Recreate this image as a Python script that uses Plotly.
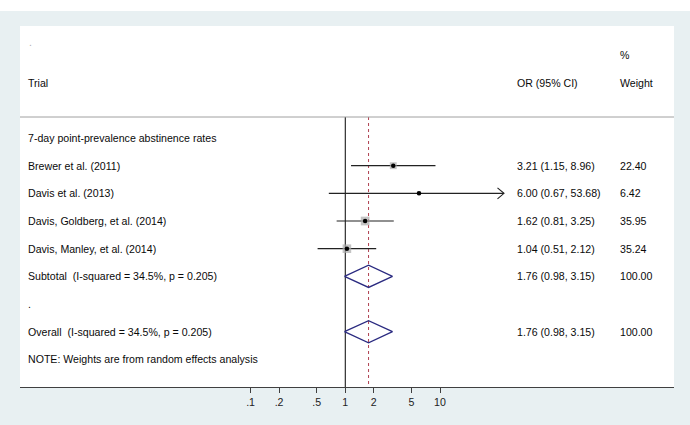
import numpy as np
import plotly.graph_objects as go

# ---------------- data ----------------
studies = ["Brewer et al. (2011)", "Davis et al. (2013)",
           "Davis, Goldberg, et al. (2014)", "Davis, Manley, et al. (2014)"]
or_est = [3.21, 6.00, 1.62, 1.04]
ci_low = [1.15, 0.67, 0.81, 0.51]
ci_high = [8.96, 53.68, 3.25, 2.12]
weights = [22.40, 6.42, 35.95, 35.24]

group_label = "7-day point-prevalence abstinence rates"
subtotal_label = "Subtotal\u00a0 (I-squared = 34.5%, p = 0.205)"
overall_label = "Overall\u00a0 (I-squared = 34.5%, p = 0.205)"
note_label = "NOTE: Weights are from random effects analysis"
pooled_est, pooled_low, pooled_high = 1.76, 0.98, 3.15
subtotal_weight = 100.00
overall_weight = 100.00

tick_vals = [0.1, 0.2, 0.5, 1, 2, 5, 10]
tick_text = [".1", ".2", ".5", "1", "2", "5", "10"]
axis_clip_max = 47.4  # CI drawn up to the plot's display limit, then arrow

# ---------------- layout helpers ----------------
W, H = 690, 425
ML, MR, MT, MB = 20, 16, 26, 38
PW, PH = W - ML - MR, H - MT - MB
FONT = "Liberation Sans, Arial, sans-serif"
FS = 10.6
TXT = "#0a0a0a"

def px_to_paper_x(px):
    return (px - ML) / PW

row_group = 0
row_studies = [1, 2, 3, 4]
row_sub = 5
row_dot = 6
row_overall = 7
row_note = 8
row_header = -2
row_pct = -3
row_hline = -0.76
y_top, y_bot = -4.05, 9.0

fig = go.Figure()

# reference line at 1 and pooled dashed line
fig.add_trace(go.Scatter(x=[1, 1], y=[row_hline, y_bot], mode="lines",
                         line=dict(color="#1a1a1a", width=1.1), hoverinfo="skip"))
fig.add_trace(go.Scatter(x=[pooled_est, pooled_est], y=[row_hline, y_bot], mode="lines",
                         line=dict(color="#b04050", width=1, dash="3px,3px"), hoverinfo="skip"))

# CI lines
for i in range(len(studies)):
    r = row_studies[i]
    hi = min(ci_high[i], axis_clip_max)
    fig.add_trace(go.Scatter(x=[ci_low[i], hi], y=[r, r], mode="lines",
                             line=dict(color="#222222", width=1.2), hoverinfo="skip"))
    if ci_high[i] > axis_clip_max:
        back = hi * 10 ** (-6.5 / 94.7)
        fig.add_trace(go.Scatter(x=[back, hi, back], y=[r - 0.2, r, r + 0.2], mode="lines",
                                 line=dict(color="#222222", width=1.1), hoverinfo="skip"))

# weight squares
fig.add_trace(go.Scatter(x=or_est, y=row_studies, mode="markers",
                         marker=dict(symbol="square", color="#ababab",
                                     size=[1.45 * np.sqrt(w) for w in weights],
                                     line=dict(width=0)), hoverinfo="skip"))
# point estimates
fig.add_trace(go.Scatter(x=or_est, y=row_studies, mode="markers",
                         marker=dict(symbol="circle", color="#000000", size=4.5,
                                     line=dict(width=0)), hoverinfo="skip"))

# diamonds
for r in [row_sub, row_overall]:
    h = 0.4
    fig.add_trace(go.Scatter(x=[pooled_low, pooled_est, pooled_high, pooled_est, pooled_low],
                             y=[r, r - h, r, r + h, r], mode="lines",
                             line=dict(color="#2a2a80", width=1.3), hoverinfo="skip"))

# ---------------- text ----------------
ann = []
def add_text(txt, xpx, row, color=TXT):
    ann.append(dict(text=txt, x=px_to_paper_x(xpx), xref="paper", y=row, yref="y",
                    xanchor="left", yanchor="middle", showarrow=False,
                    font=dict(family=FONT, size=FS, color=color)))

X_LABEL, X_OR, X_W = 25.5, 515, 617.5
add_text(".", 27, -3.47, color="#b0b0b0")
add_text("Trial", X_LABEL, row_header)
add_text("OR (95% CI)", X_OR, row_header)
add_text("%", X_W, row_pct)
add_text("Weight", X_W, row_header)
add_text(group_label, X_LABEL, row_group)
for i, s in enumerate(studies):
    r = row_studies[i]
    add_text(s, X_LABEL, r)
    add_text(f"{or_est[i]:.2f} ({ci_low[i]:.2f}, {ci_high[i]:.2f})", X_OR, r)
    add_text(f"{weights[i]:.2f}", X_W, r)
add_text(subtotal_label, X_LABEL, row_sub)
add_text(f"{pooled_est:.2f} ({pooled_low:.2f}, {pooled_high:.2f})", X_OR, row_sub)
add_text(f"{subtotal_weight:.2f}", X_W, row_sub)
add_text(".", X_LABEL, row_dot)
add_text(overall_label, X_LABEL, row_overall)
add_text(f"{pooled_est:.2f} ({pooled_low:.2f}, {pooled_high:.2f})", X_OR, row_overall)
add_text(f"{overall_weight:.2f}", X_W, row_overall)
add_text(note_label, X_LABEL, row_note)

shapes = [
    # white strip at very top of the page
    dict(type="rect", xref="paper", yref="paper", x0=-0.1, x1=1.1,
         y0=1 + 15 / PH, y1=1 + (MT + 2) / PH, fillcolor="white", line=dict(width=0),
         layer="below"),
    # header separator line
    dict(type="line", xref="paper", yref="y", x0=0, x1=1, y0=row_hline, y1=row_hline,
         line=dict(color="#a0a0a0", width=1)),
]

lo = -3.435
hi_ = 3.471
fig.update_layout(
    width=W, height=H,
    margin=dict(l=ML, r=MR, t=MT, b=MB, pad=0),
    paper_bgcolor="#e8f0f2", plot_bgcolor="white",
    showlegend=False,
    annotations=ann, shapes=shapes,
    xaxis=dict(type="log", range=[lo, hi_], tickvals=tick_vals, ticktext=tick_text,
               showgrid=False, zeroline=False, showline=True, linecolor="#404040",
               linewidth=1.2, ticks="outside", ticklen=5, tickcolor="#404040",
               tickfont=dict(family=FONT, size=FS, color="#222222"), fixedrange=True),
    yaxis=dict(range=[y_bot, y_top], showgrid=False, zeroline=False, showticklabels=False,
               showline=False, ticks="", fixedrange=True),
)

fig.write_html("out.html")
